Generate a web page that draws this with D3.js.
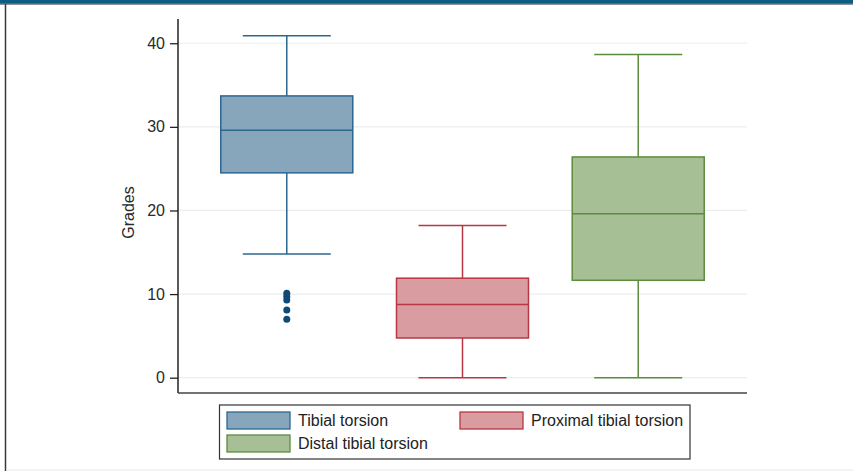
<!DOCTYPE html>
<html>
<head>
<meta charset="utf-8">
<script src="https://cdn.jsdelivr.net/npm/d3@7"></script>
<style>
  html, body { margin: 0; padding: 0; background: #fff; }
  svg { display: block; font-family: "Liberation Sans", Arial, sans-serif; }
</style>
</head>
<body>
<svg id="chart" width="853" height="471"></svg>
<script>
// ---- data ----
const categories = ["Tibial torsion", "Proximal tibial torsion", "Distal tibial torsion"];
const lowerWhisker = [14.8, 0, 0];
const q1 = [24.5, 4.75, 11.65];
const median = [29.6, 8.75, 19.6];
const q3 = [33.7, 11.9, 26.4];
const upperWhisker = [40.9, 18.2, 38.65];
const outliers = [[10.1, 9.7, 9.3, 8.1, 7.0], [], []];
const yTicks = [0, 10, 20, 30, 40];
const yLabel = "Grades";

// ---- styles ----
const fills = ["#87a5bb", "#d99ca1", "#a6bf94"];
const strokes = ["#2b6791", "#b93644", "#5c8c3e"];
const outlierColor = "#0d4a75";

const svg = d3.select("#chart");

// frame decorations
svg.append("rect").attr("x", 0).attr("y", 0).attr("width", 853).attr("height", 3.5).attr("fill", "#0d5a82");
svg.append("line").attr("x1", 0).attr("x2", 853).attr("y1", 4).attr("y2", 4).attr("stroke", "#1b2a36").attr("stroke-width", 1.2);
svg.append("line").attr("x1", 5.5).attr("x2", 5.5).attr("y1", 4).attr("y2", 471).attr("stroke", "#3a3a3a").attr("stroke-width", 1.5);
svg.append("line").attr("x1", 6).attr("x2", 853).attr("y1", 470).attr("y2", 470).attr("stroke", "#e6e6e6").attr("stroke-width", 1);

// scales
const plot = { left: 178, right: 747, top: 19, bottom: 393 };
const x = d3.scalePoint().domain(categories).range([plot.left, plot.right]).padding(0.619);
const y = d3.scaleLinear().domain([-1.83, 42.9]).range([plot.bottom, plot.top]);
const boxW = 132, capW = 88;

// gridlines
svg.append("g").selectAll("line").data(yTicks).join("line")
  .attr("x1", plot.left).attr("x2", plot.right)
  .attr("y1", d => y(d)).attr("y2", d => y(d))
  .attr("stroke", "#eaeef1").attr("stroke-width", 1.2);

// y axis
const yAxis = d3.axisLeft(y).tickValues(yTicks).tickSize(8).tickPadding(5).tickSizeOuter(0);
const gy = svg.append("g").attr("transform", `translate(${plot.left},0)`).call(yAxis)
  .attr("font-size", 16).attr("font-family", "Liberation Sans, Arial, sans-serif");
gy.select(".domain").remove();
gy.selectAll(".tick line").attr("stroke", "#222").attr("stroke-width", 1.3);
gy.selectAll(".tick text").attr("fill", "#2a2a2a");
svg.append("line").attr("x1", plot.left).attr("x2", plot.left).attr("y1", plot.top).attr("y2", plot.bottom)
  .attr("stroke", "#222").attr("stroke-width", 1.5);
// x axis line
svg.append("line").attr("x1", plot.left).attr("x2", plot.right).attr("y1", plot.bottom).attr("y2", plot.bottom)
  .attr("stroke", "#444").attr("stroke-width", 1.5);

svg.append("text").attr("transform", `translate(134,${(y(0) + y(40)) / 2 + 2}) rotate(-90)`)
  .attr("text-anchor", "middle").attr("fill", "#2a2a2a").attr("font-size", 16).text(yLabel);

// boxes
const data = categories.map((c, i) => ({
  c, i, lw: lowerWhisker[i], q1: q1[i], med: median[i], q3: q3[i], uw: upperWhisker[i], out: outliers[i]
}));
const g = svg.append("g").selectAll("g").data(data).join("g");
// whiskers
g.append("line").attr("x1", d => x(d.c)).attr("x2", d => x(d.c)).attr("y1", d => y(d.q3)).attr("y2", d => y(d.uw))
  .attr("stroke", d => strokes[d.i]).attr("stroke-width", 1.5);
g.append("line").attr("x1", d => x(d.c)).attr("x2", d => x(d.c)).attr("y1", d => y(d.q1)).attr("y2", d => y(d.lw))
  .attr("stroke", d => strokes[d.i]).attr("stroke-width", 1.5);
g.append("line").attr("x1", d => x(d.c) - capW / 2).attr("x2", d => x(d.c) + capW / 2).attr("y1", d => y(d.uw)).attr("y2", d => y(d.uw))
  .attr("stroke", d => strokes[d.i]).attr("stroke-width", 1.5);
g.append("line").attr("x1", d => x(d.c) - capW / 2).attr("x2", d => x(d.c) + capW / 2).attr("y1", d => y(d.lw)).attr("y2", d => y(d.lw))
  .attr("stroke", d => strokes[d.i]).attr("stroke-width", 1.5);
// box
g.append("rect").attr("x", d => x(d.c) - boxW / 2).attr("width", boxW)
  .attr("y", d => y(d.q3)).attr("height", d => y(d.q1) - y(d.q3))
  .attr("fill", d => fills[d.i]).attr("stroke", d => strokes[d.i]).attr("stroke-width", 1.5);
g.append("line").attr("x1", d => x(d.c) - boxW / 2).attr("x2", d => x(d.c) + boxW / 2).attr("y1", d => y(d.med)).attr("y2", d => y(d.med))
  .attr("stroke", d => strokes[d.i]).attr("stroke-width", 1.5);
// outliers
g.selectAll("circle").data(d => d.out.map(v => ({ c: d.c, v }))).join("circle")
  .attr("cx", d => x(d.c)).attr("cy", d => y(d.v)).attr("r", 3.5).attr("fill", outlierColor);

// legend
const legend = svg.append("g");
legend.append("rect").attr("x", 219.5).attr("y", 405).attr("width", 470.5).attr("height", 54)
  .attr("fill", "#fff").attr("stroke", "#333").attr("stroke-width", 1.2);
const legPos = [[227, 412], [460, 412], [227, 435]];
categories.forEach((c, i) => {
  const [lx, ly] = legPos[i];
  legend.append("rect").attr("x", lx).attr("y", ly).attr("width", 63).attr("height", 17)
    .attr("fill", fills[i]).attr("stroke", strokes[i]).attr("stroke-width", 1.3);
  legend.append("text").attr("x", lx + 71).attr("y", ly + 14).attr("fill", "#222")
    .attr("font-size", 16).text(c);
});
</script>
</body>
</html>
